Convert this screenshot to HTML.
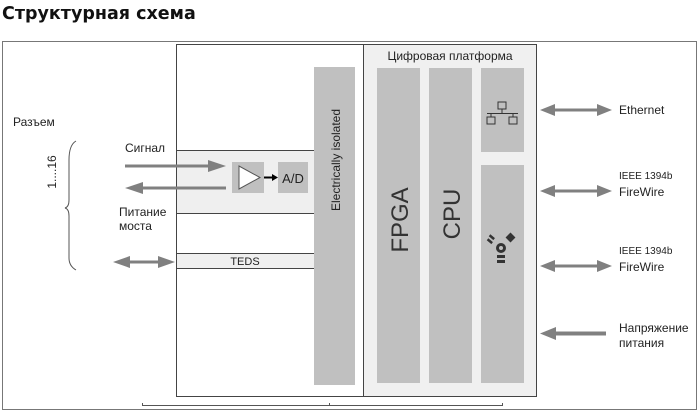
<!DOCTYPE html>
<html><head><meta charset="utf-8"><style>
body{margin:0;background:#fff}
svg{display:block}
text{font-family:"Liberation Sans",Arial,sans-serif;fill:#222}
</style></head><body>
<svg width="700" height="414" viewBox="0 0 700 414" xmlns="http://www.w3.org/2000/svg">
<text x="2" y="19" style="font-family:'DejaVu Sans',sans-serif;font-weight:bold;font-size:17.5px;fill:#111">Структурная схема</text>
<rect x="2.5" y="41.5" width="694" height="368" fill="#fff" stroke="#777" stroke-width="1"/>
<rect x="176.5" y="44.5" width="187" height="352" fill="#fff" stroke="#444" stroke-width="1"/>
<rect x="363.5" y="44.5" width="173" height="352" fill="#f0f0f0" stroke="#444" stroke-width="1"/>
<rect x="177" y="150" width="137" height="63" fill="#efefef"/>
<line x1="177" y1="150.5" x2="314" y2="150.5" stroke="#444"/>
<line x1="177" y1="213.5" x2="314" y2="213.5" stroke="#444"/>
<rect x="177" y="253" width="137" height="15" fill="#efefef"/>
<line x1="177" y1="253.5" x2="314" y2="253.5" stroke="#444"/>
<line x1="177" y1="268.5" x2="314" y2="268.5" stroke="#444"/>
<text x="245" y="265" font-size="11" text-anchor="middle">TEDS</text>
<rect x="314" y="67" width="41" height="318" fill="#c0c0c0"/>
<text transform="translate(340,160) rotate(-90)" font-size="12" text-anchor="middle">Electrically isolated</text>
<rect x="232" y="162" width="32" height="31" fill="#c0c0c0"/>
<polygon points="239,166 239,189 260,177.5" fill="#fff" stroke="#555"/>
<line x1="264" y1="177.5" x2="273" y2="177.5" stroke="#000" stroke-width="2"/>
<polygon points="272,174 278,177.5 272,181" fill="#000"/>
<rect x="278" y="162" width="30" height="31" fill="#c0c0c0"/>
<text x="293" y="183" font-size="13" text-anchor="middle">A/D</text>
<g fill="#808080">
<rect x="125" y="164.5" width="86" height="3"/><polygon points="208,160 226,166 208,172"/>
<rect x="140" y="186.5" width="86" height="3"/><polygon points="143,182 125,188 143,194"/>
<rect x="125" y="260.5" width="36" height="3"/><polygon points="130,256 113,262 130,268"/><polygon points="158,256 175,262 158,268"/>
</g>
<text x="125" y="152" font-size="12">Сигнал</text>
<text x="119" y="216" font-size="12">Питание</text>
<text x="119" y="230" font-size="12">моста</text>
<text x="13" y="126" font-size="12">Разъем</text>
<text transform="translate(56,172) rotate(-90)" font-size="12" text-anchor="middle">1....16</text>
<path d="M76,141 Q69,145 69,160 L69,200 Q69,207 65,208 Q69,209 69,216 L69,258 Q69,266 76,270" fill="none" stroke="#555" stroke-width="1"/>
<text x="450" y="60" font-size="12" text-anchor="middle">Цифровая платформа</text>
<rect x="377" y="68" width="43" height="315" fill="#c0c0c0"/>
<rect x="429" y="68" width="43" height="315" fill="#c0c0c0"/>
<rect x="481" y="68" width="43" height="84" fill="#c0c0c0"/>
<rect x="481" y="165" width="43" height="218" fill="#c0c0c0"/>
<text transform="translate(408,220) rotate(-90)" font-size="24" text-anchor="middle" style="fill:#333">FPGA</text>
<text transform="translate(460,214) rotate(-90)" font-size="24" text-anchor="middle" style="fill:#333">CPU</text>
<g fill="none" stroke="#333" stroke-width="1">
<rect x="498" y="102" width="8" height="7"/>
<line x1="502" y1="109" x2="502" y2="113"/>
<line x1="487" y1="113.5" x2="518" y2="113.5"/>
<line x1="491" y1="113" x2="491" y2="117"/><line x1="513" y1="113" x2="513" y2="117"/>
<rect x="487" y="117" width="8" height="7"/><rect x="509" y="117" width="8" height="7"/>
</g>
<g fill="#333">
<circle cx="501" cy="248" r="5"/>
<circle cx="501" cy="248" r="2" fill="#c0c0c0"/>
<rect x="497" y="255" width="8" height="3"/><rect x="497" y="260" width="8" height="3"/>
<rect x="507" y="234" width="7" height="7" transform="rotate(45 510.5 237.5)"/>
<rect x="489" y="236" width="6" height="2.5" transform="rotate(40 492 237)"/>
<rect x="487" y="240" width="6" height="2.5" transform="rotate(40 490 241)"/>
</g>
<g fill="#808080">
<rect x="550" y="108.5" width="52" height="3"/><polygon points="555,104 540,110 555,116"/><polygon points="597,104 612,110 597,116"/>
<rect x="550" y="189.5" width="52" height="3"/><polygon points="555,185 540,191 555,197"/><polygon points="597,185 612,191 597,197"/>
<rect x="550" y="264.5" width="52" height="3"/><polygon points="555,260 540,266 555,272"/><polygon points="597,260 612,266 597,272"/>
<rect x="550" y="331.5" width="56" height="4"/><polygon points="556,327 540,333.5 556,340"/>
</g>
<text x="619" y="114" font-size="12">Ethernet</text>
<text x="619" y="179" font-size="10">IEEE 1394b</text>
<text x="619" y="196" font-size="12">FireWire</text>
<text x="619" y="254" font-size="10">IEEE 1394b</text>
<text x="619" y="271" font-size="12">FireWire</text>
<text x="619" y="332" font-size="12">Напряжение</text>
<text x="619" y="347" font-size="12">питания</text>
<line x1="142" y1="405.5" x2="503" y2="405.5" stroke="#555"/>
<line x1="142.5" y1="403" x2="142.5" y2="406" stroke="#555"/>
<line x1="329.5" y1="403" x2="329.5" y2="406" stroke="#555"/>
<line x1="502.5" y1="403" x2="502.5" y2="406" stroke="#555"/>
</svg>
</body></html>
